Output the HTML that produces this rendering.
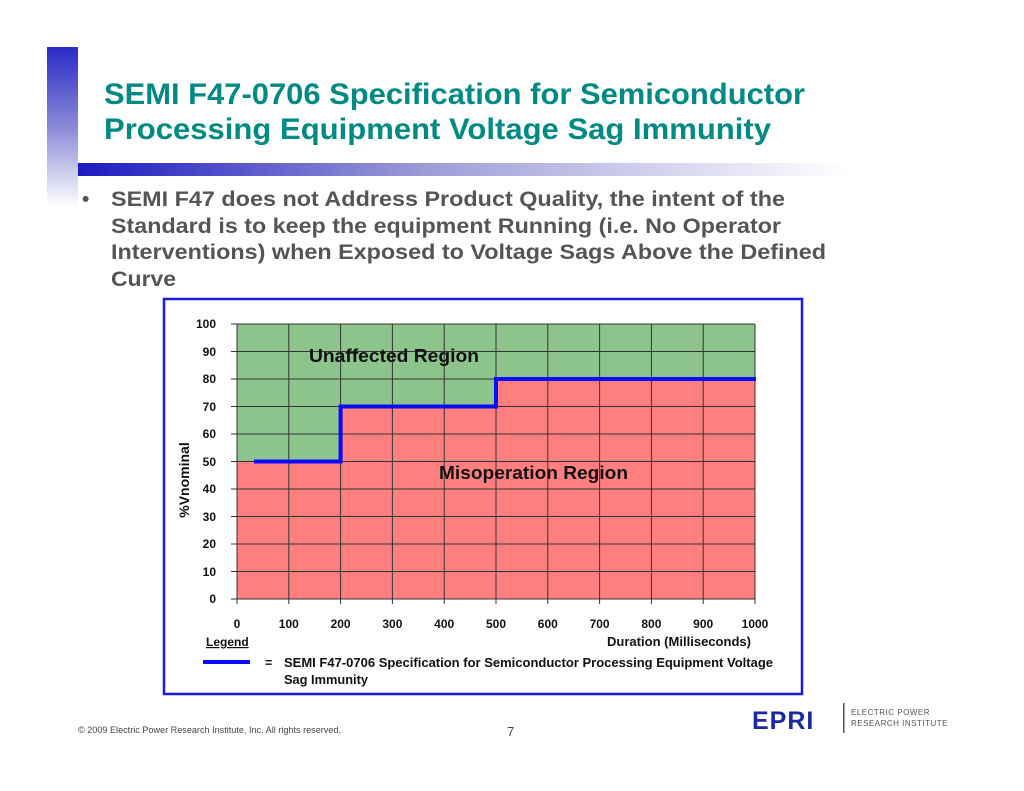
<!DOCTYPE html>
<html><head><meta charset="utf-8"><style>
html,body{margin:0;padding:0;background:#fff;}
svg{display:block;}
</style></head><body>
<svg width="1024" height="791" viewBox="0 0 1024 791" xmlns="http://www.w3.org/2000/svg" font-family="Liberation Sans, sans-serif">
<defs>
<linearGradient id="vb" x1="0" y1="0" x2="0" y2="1">
<stop offset="0" stop-color="#2a2ac8"/><stop offset="0.5" stop-color="#8a8ad8"/><stop offset="1" stop-color="#ffffff"/>
</linearGradient>
<linearGradient id="hb" x1="0" y1="0" x2="1" y2="0">
<stop offset="0" stop-color="#1a1ac0"/><stop offset="0.45" stop-color="#9c9cd8"/><stop offset="1" stop-color="#ffffff"/>
</linearGradient>
</defs>
<rect x="47" y="47" width="31" height="160" fill="url(#vb)"/>
<rect x="78" y="163" width="770" height="13" fill="url(#hb)"/>
<g font-weight="bold" font-size="30" fill="#008a84">
<text x="104" y="104" textLength="701" lengthAdjust="spacingAndGlyphs">SEMI F47-0706 Specification for Semiconductor</text>
<text x="104" y="139" textLength="667" lengthAdjust="spacingAndGlyphs">Processing Equipment Voltage Sag Immunity</text>
</g>
<g font-weight="bold" font-size="21" fill="#555">
<text x="82" y="206">•</text>
<text x="111" y="206" textLength="674" lengthAdjust="spacingAndGlyphs">SEMI F47 does not Address Product Quality, the intent of the</text>
<text x="111" y="233" textLength="670" lengthAdjust="spacingAndGlyphs">Standard is to keep the equipment Running (i.e. No Operator</text>
<text x="111" y="259" textLength="715" lengthAdjust="spacingAndGlyphs">Interventions) when Exposed to Voltage Sags Above the Defined</text>
<text x="111" y="286" textLength="65" lengthAdjust="spacingAndGlyphs">Curve</text>
</g>
<rect x="164" y="299" width="638" height="395" fill="#fff" stroke="#1a1ae0" stroke-width="2.5"/>
<rect x="237" y="324" width="518" height="275" fill="#8cc48c"/>
<path d="M237 461.5 H340.6 V406.5 H496 V379 H755 V599 H237 Z" fill="#ff7f7f"/>
<g stroke="#333" stroke-width="1">
<path d="M237 324H755M237 351.5H755M237 379H755M237 406.5H755M237 434H755M237 461.5H755M237 489H755M237 516.5H755M237 544H755M237 571.5H755M231 599H755"/>
<path d="M237 324V604M288.8 324V604M340.6 324V604M392.4 324V604M444.2 324V604M496 324V604M547.8 324V604M599.6 324V604M651.4 324V604M703.2 324V604M755 324V604"/>
<path d="M231 324H237M231 351.5H237M231 379H237M231 406.5H237M231 434H237M231 461.5H237M231 489H237M231 516.5H237M231 544H237M231 571.5H237"/>
</g>
<path d="M254 461.5 H340.6 V406.5 H496 V379 H756" fill="none" stroke="#0a0aff" stroke-width="4"/>
<g font-weight="bold" font-size="12" fill="#111" text-anchor="end">
<text x="216" y="328">100</text><text x="216" y="356">90</text><text x="216" y="383">80</text>
<text x="216" y="411">70</text><text x="216" y="438">60</text><text x="216" y="466">50</text>
<text x="216" y="493">40</text><text x="216" y="521">30</text><text x="216" y="548">20</text>
<text x="216" y="576">10</text><text x="216" y="603">0</text>
</g>
<g font-weight="bold" font-size="12" fill="#111" text-anchor="middle">
<text x="237" y="628">0</text><text x="288.8" y="628">100</text><text x="340.6" y="628">200</text>
<text x="392.4" y="628">300</text><text x="444.2" y="628">400</text><text x="496" y="628">500</text>
<text x="547.8" y="628">600</text><text x="599.6" y="628">700</text><text x="651.4" y="628">800</text>
<text x="703.2" y="628">900</text><text x="755" y="628">1000</text>
</g>
<text transform="translate(189,480) rotate(-90)" text-anchor="middle" font-weight="bold" font-size="14" fill="#111">%Vnominal</text>
<text x="309" y="362" font-weight="bold" font-size="18" fill="#111" textLength="170" lengthAdjust="spacingAndGlyphs">Unaffected Region</text>
<text x="439" y="479" font-weight="bold" font-size="18" fill="#111" textLength="189" lengthAdjust="spacingAndGlyphs">Misoperation Region</text>
<text x="206" y="646" font-weight="bold" font-size="12" fill="#111" text-decoration="underline">Legend</text>
<text x="607" y="646" font-weight="bold" font-size="12.5" fill="#111" textLength="144" lengthAdjust="spacingAndGlyphs">Duration (Milliseconds)</text>
<path d="M203 662 H250" stroke="#0a0aff" stroke-width="4"/>
<g font-weight="bold" font-size="12.5" fill="#111">
<text x="265" y="667">=</text>
<text x="284" y="667" textLength="489" lengthAdjust="spacingAndGlyphs">SEMI F47-0706  Specification for Semiconductor Processing Equipment Voltage</text>
<text x="284" y="684" textLength="84" lengthAdjust="spacingAndGlyphs">Sag Immunity</text>
</g>
<text x="78" y="733" font-size="9" fill="#444" textLength="263" lengthAdjust="spacingAndGlyphs">© 2009 Electric Power Research Institute, Inc. All rights reserved.</text>
<text x="507" y="736" font-size="13" fill="#444">7</text>
<text x="752" y="729" font-size="25" font-weight="bold" fill="#1a2aa0" letter-spacing="1">EPRI</text>
<rect x="843" y="703" width="1.5" height="30" fill="#555"/>
<g font-size="8" fill="#555" letter-spacing="0.5">
<text x="851" y="715">ELECTRIC POWER</text>
<text x="851" y="726">RESEARCH INSTITUTE</text>
</g>
</svg>
</body></html>
